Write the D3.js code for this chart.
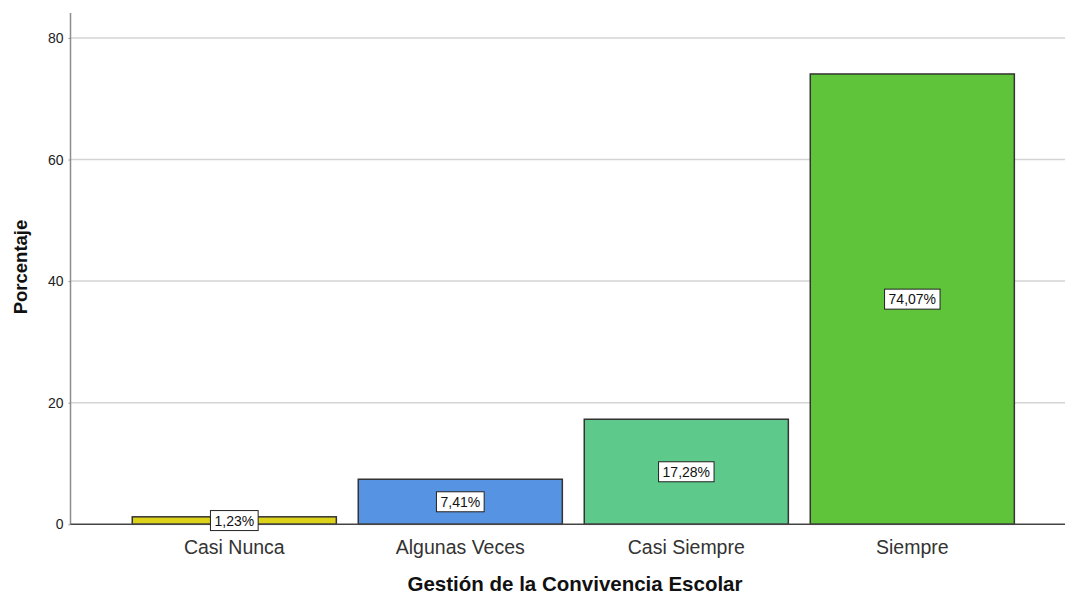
<!DOCTYPE html>
<html>
<head>
<meta charset="utf-8">
<script src="https://cdn.jsdelivr.net/npm/d3@7"></script>
<style>
  html, body { margin: 0; padding: 0; background: #fff; }
  svg { display: block; font-family: "Liberation Sans", Arial, sans-serif; }
</style>
</head>
<body>
<svg id="chart" width="1065" height="596"></svg>
<script>
// Response categories and their percentages
const categories = ["Casi Nunca", "Algunas Veces", "Casi Siempre", "Siempre"];
const percentages = [1.23, 7.41, 17.28, 74.07];
const valueLabels = ["1,23%", "7,41%", "17,28%", "74,07%"];
const barColors = ["#dcd21a", "#5693e2", "#5dca8b", "#5fc43a"];
const yTicks = [0, 20, 40, 60, 80];
const yTitle = "Porcentaje";
const xTitle = "Gestión de la Convivencia Escolar";

const svg = d3.select("#chart");

const plot = { left: 70.5, right: 1065, top: 13, bottom: 524.3 };

const y = d3.scaleLinear().domain([0, 84.1]).range([plot.bottom, plot.top]);
const x = d3.scaleBand()
  .domain(categories)
  .range([121.3, 1025.3])
  .paddingInner(0.097)
  .paddingOuter(0.0485);

// horizontal gridlines
svg.append("g")
  .selectAll("line")
  .data(yTicks.filter(t => t > 0))
  .join("line")
  .attr("x1", plot.left).attr("x2", plot.right)
  .attr("y1", d => y(d)).attr("y2", d => y(d))
  .attr("stroke", "#d4d4d4").attr("stroke-width", 1.5);

// y axis
const yAxis = svg.append("g")
  .attr("transform", `translate(${plot.left},0)`)
  .call(d3.axisLeft(y).tickValues(yTicks).tickSize(2).tickPadding(5).tickFormat(d3.format("d")));
yAxis.select(".domain").attr("stroke", "#8c8c8c").attr("stroke-width", 1.5)
  .attr("d", `M0,${plot.top}V${plot.bottom}`);
yAxis.selectAll(".tick line").attr("stroke", "#8c8c8c");
yAxis.selectAll(".tick text")
  .attr("font-size", 14).attr("fill", "#222")
  .attr("font-family", "'Liberation Sans', Arial, sans-serif");

// bars
svg.append("g")
  .selectAll("rect")
  .data(categories)
  .join("rect")
  .attr("x", d => x(d))
  .attr("width", x.bandwidth())
  .attr("y", (d, i) => y(percentages[i]))
  .attr("height", (d, i) => y(0) - y(percentages[i]))
  .attr("fill", (d, i) => barColors[i])
  .attr("stroke", "#333")
  .attr("stroke-width", 1.5);

// baseline
svg.append("line")
  .attr("x1", plot.left).attr("x2", plot.right)
  .attr("y1", y(0)).attr("y2", y(0))
  .attr("stroke", "#444").attr("stroke-width", 1.5);

// value labels in boxes at bar mid-height
const lab = svg.append("g")
  .selectAll("g")
  .data(categories)
  .join("g")
  .attr("transform", (d, i) => `translate(${x(d) + x.bandwidth() / 2},${y(percentages[i] / 2)})`);
lab.each(function(d, i) {
  const g = d3.select(this);
  const t = g.append("text")
    .attr("text-anchor", "middle")
    .attr("dy", "0.36em")
    .attr("font-size", 14)
    .attr("fill", "#111")
    .text(valueLabels[i]);
  const w = t.node().getComputedTextLength() + 8;
  g.insert("rect", "text")
    .attr("x", -w / 2).attr("y", -10)
    .attr("width", w).attr("height", 20)
    .attr("fill", "#fff")
    .attr("stroke", "#222").attr("stroke-width", 1);
});

// category labels
svg.append("g")
  .selectAll("text")
  .data(categories)
  .join("text")
  .attr("x", d => x(d) + x.bandwidth() / 2)
  .attr("y", 554)
  .attr("text-anchor", "middle")
  .attr("font-size", 19.5)
  .attr("fill", "#333")
  .text(d => d);

// axis titles
svg.append("text")
  .attr("transform", "translate(27,267) rotate(-90)")
  .attr("text-anchor", "middle")
  .attr("font-size", 18.5)
  .attr("font-weight", "bold")
  .attr("fill", "#111")
  .text(yTitle);

svg.append("text")
  .attr("x", 575)
  .attr("y", 591)
  .attr("text-anchor", "middle")
  .attr("font-size", 20.5)
  .attr("font-weight", "bold")
  .attr("fill", "#111")
  .text(xTitle);
</script>
</body>
</html>
